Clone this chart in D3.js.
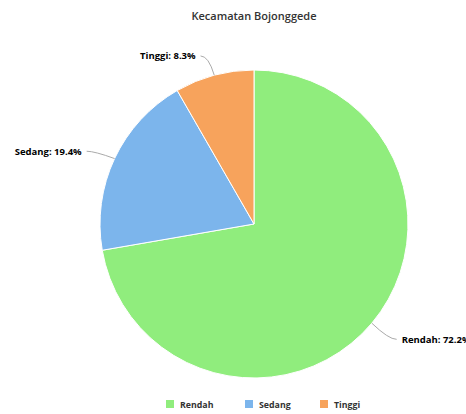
<!DOCTYPE html>
<html>
<head>
<meta charset="utf-8">
<script src="https://cdn.jsdelivr.net/npm/d3@7"></script>
<style>
  html, body { margin: 0; padding: 0; background: #ffffff; }
  svg { display: block; font-family: "Open Sans", "DejaVu Sans", sans-serif; }
</style>
</head>
<body>
<svg id="chart" width="466" height="414"></svg>
<script>
// Risk level share per category
const categories = ["Rendah", "Sedang", "Tinggi"];
const values = [72.2, 19.4, 8.3];
const colors = ["#90ed7d", "#7cb5ec", "#f7a35c"];
const titleText = "Kecamatan Bojonggede";

const svg = d3.select("#chart");
const cx = 254, cy = 224, r = 154;

svg.append("text")
  .attr("x", 254).attr("y", 20)
  .attr("text-anchor", "middle")
  .attr("fill", "#333333")
  .attr("font-size", 11)
  .attr("font-weight", 600)
  .text(titleText);

const data = categories.map((c, i) => ({ name: c, value: values[i], color: colors[i] }));
const pie = d3.pie().sort(null).value(d => d.value).startAngle(0).endAngle(2 * Math.PI);
const arcs = pie(data);
const arc = d3.arc().innerRadius(0).outerRadius(r);

const g = svg.append("g").attr("transform", `translate(${cx},${cy})`);
g.selectAll("path.slice")
  .data(arcs)
  .join("path")
  .attr("class", "slice")
  .attr("d", arc)
  .attr("fill", d => d.data.color)
  .attr("stroke", "#ffffff")
  .attr("stroke-width", 1);

// Data labels with curved connectors
arcs.forEach(d => {
  const a = (d.startAngle + d.endAngle) / 2;
  const sx = Math.sin(a), sy = -Math.cos(a);
  const p0 = [sx * r, sy * r];
  const p1 = [sx * (r + 22), sy * (r + 22) + 2];
  const right = sx >= 0;
  const p2 = [p1[0] + (right ? 8 : -8), p1[1]];
  g.append("path")
    .attr("d", `M${p2[0]},${p2[1]} Q${p1[0]},${p1[1]} ${p0[0]},${p0[1]}`)
    .attr("fill", "none")
    .attr("stroke", "#aaaaaa")
    .attr("stroke-width", 1);
  g.append("text")
    .attr("x", p2[0] + (right ? 5 : -5))
    .attr("y", p2[1] + 3.5)
    .attr("text-anchor", right ? "start" : "end")
    .attr("fill", "#000000")
    .attr("font-size", 9.5)
    .attr("font-weight", 700)
    .text(`${d.data.name}: ${d3.format(".1f")(d.data.value)}%`);
});

// Legend
const legendX = [166, 245, 320];
const legend = svg.append("g");
data.forEach((d, i) => {
  const lg = legend.append("g").attr("transform", `translate(${legendX[i]},400)`);
  lg.append("rect").attr("width", 8).attr("height", 8).attr("y", 0).attr("fill", d.color);
  lg.append("text")
    .attr("x", 14).attr("y", 7.5)
    .attr("fill", "#333333")
    .attr("font-size", 8.8)
    .attr("font-weight", 700)
    .text(d.name);
});
</script>
</body>
</html>
